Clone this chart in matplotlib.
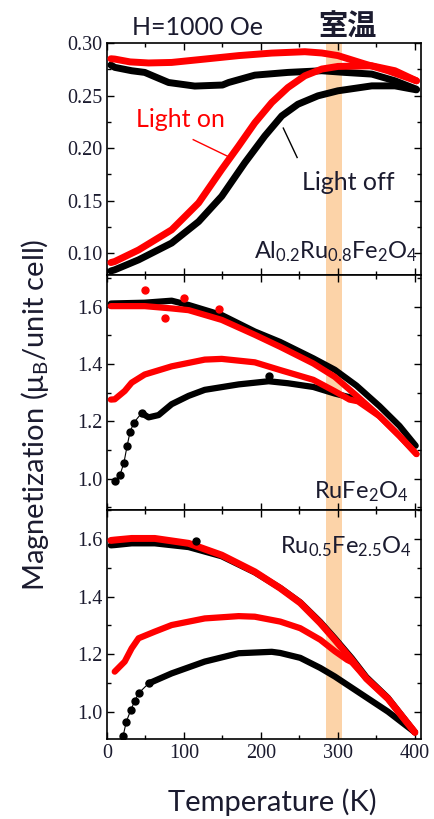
import matplotlib
matplotlib.use("Agg")
import matplotlib.pyplot as plt
from matplotlib.ticker import MultipleLocator

plt.rcParams['font.family'] = ['Liberation Serif', 'DejaVu Serif']
plt.rcParams['mathtext.fontset'] = 'custom'
plt.rcParams['mathtext.rm'] = 'Lato'
plt.rcParams['mathtext.it'] = 'Lato:italic'
plt.rcParams['mathtext.default'] = 'regular'

SANS = ['Lato', 'DejaVu Sans']
TXT = '#1b1b2f'
RED = '#ff0000'
BLK = '#000000'

# --- Al0.2Ru0.8Fe2O4 (top) ---
t_top_fc_on = [5, 10, 30, 54, 84, 127, 171, 214, 257, 279, 300, 335, 365, 402]
m_top_fc_on = [0.285, 0.2847, 0.282, 0.281, 0.2815, 0.2847, 0.288, 0.2904, 0.2917, 0.2905, 0.288, 0.280, 0.2736, 0.264]
t_top_fc_off = [5, 10, 32, 49, 80, 114, 150, 158, 192, 235, 279, 309, 344, 374, 402]
m_top_fc_off = [0.279, 0.2768, 0.2736, 0.272, 0.2624, 0.259, 0.260, 0.2624, 0.2694, 0.272, 0.2736, 0.272, 0.2704, 0.264, 0.256]
t_top_zfc_on = [5, 10, 41, 84, 119, 149, 171, 192, 214, 235, 257, 279, 300, 344, 374, 402]
m_top_zfc_on = [0.091, 0.092, 0.103, 0.1222, 0.1478, 0.1796, 0.202, 0.224, 0.2433, 0.2576, 0.2688, 0.2752, 0.2777, 0.2783, 0.2736, 0.264]
t_top_zfc_off = [5, 10, 41, 84, 119, 149, 179, 205, 227, 248, 274, 300, 344, 374, 402]
m_top_zfc_off = [0.083, 0.0841, 0.0936, 0.1096, 0.130, 0.1541, 0.186, 0.2115, 0.2306, 0.2417, 0.2497, 0.2545, 0.2592, 0.2592, 0.2554]

# --- RuFe2O4 (middle) ---
t_mid_fc_off = [5, 10, 49, 84, 106, 149, 192, 225, 268, 296, 324, 354, 380, 401]
m_mid_fc_off = [1.611, 1.6115, 1.614, 1.621, 1.606, 1.571, 1.5135, 1.477, 1.420, 1.380, 1.325, 1.253, 1.184, 1.115]
t_mid_fc_on = [5, 10, 49, 84, 106, 149, 192, 225, 268, 296, 324, 354, 380, 402]
m_mid_fc_on = [1.602, 1.602, 1.602, 1.594, 1.588, 1.554, 1.502, 1.460, 1.402, 1.355, 1.290, 1.218, 1.149, 1.086]
t_mid_out_on = [49, 75, 100, 145]
m_mid_out_on = [1.660, 1.560, 1.632, 1.592]
t_mid_zfc_on = [5, 10, 23, 32, 49, 84, 127, 149, 192, 225, 268, 296, 315, 326, 354, 380, 402]
m_mid_zfc_on = [1.276, 1.277, 1.306, 1.335, 1.3635, 1.392, 1.4155, 1.418, 1.406, 1.379, 1.345, 1.305, 1.276, 1.270, 1.218, 1.149, 1.086]
t_mid_zfc_off = [10, 17, 22, 26, 30, 35, 45, 54, 67, 84, 106, 127, 171, 210, 235, 268, 296, 311, 322]
m_mid_zfc_off = [0.991, 1.014, 1.056, 1.113, 1.164, 1.196, 1.229, 1.214, 1.222, 1.260, 1.289, 1.310, 1.329, 1.340, 1.333, 1.320, 1.297, 1.287, 1.280]
t_mid_out_off = [210]
m_mid_out_off = [1.358]

# --- Ru0.5Fe2.5O4 (bottom) ---
t_bot_fc_on = [5, 10, 32, 62, 106, 149, 192, 225, 251, 277, 296, 318, 337, 365, 400]
m_bot_fc_on = [1.595, 1.5965, 1.602, 1.602, 1.585, 1.544, 1.486, 1.429, 1.378, 1.308, 1.250, 1.180, 1.115, 1.045, 0.928]
t_bot_fc_off = [5, 10, 32, 62, 106, 149, 192, 225, 251, 277, 296, 318, 337, 365, 400]
m_bot_fc_off = [1.578, 1.579, 1.585, 1.585, 1.572, 1.540, 1.484, 1.430, 1.380, 1.312, 1.255, 1.186, 1.120, 1.048, 0.928]
t_bot_out_off = [116]
m_bot_out_off = [1.593]
t_bot_zfc_on = [10, 23, 32, 41, 62, 84, 127, 171, 192, 225, 251, 277, 296, 312, 318, 337, 365, 400]
m_bot_zfc_on = [1.139, 1.174, 1.220, 1.255, 1.278, 1.301, 1.324, 1.332, 1.330, 1.313, 1.290, 1.250, 1.210, 1.180, 1.172, 1.115, 1.045, 0.928]
t_bot_zfc_off = [21, 25, 31, 36, 41, 54, 84, 127, 171, 214, 225, 251, 277, 296, 322, 348, 365, 400]
m_bot_zfc_off = [0.916, 0.965, 1.006, 1.037, 1.064, 1.098, 1.133, 1.174, 1.203, 1.208, 1.204, 1.187, 1.152, 1.122, 1.076, 1.030, 1.000, 0.928]

band = (285, 305)

fig = plt.figure(figsize=(4.35, 8.19), dpi=100)
L, W = 0.246, 0.722
ax_top = fig.add_axes([L, 0.664, W, 0.2835])
ax_mid = fig.add_axes([L, 0.377, W, 0.287])
ax_bot = fig.add_axes([L, 0.0977, W, 0.2793])


def curve(ax, t, m, c, dots=False, lw=5):
    if dots:
        ax.plot(t, m, color=c, lw=0.8, marker='o', ms=5, zorder=3)
    else:
        ax.plot(t, m, color=c, lw=lw, solid_capstyle='round', solid_joinstyle='round', zorder=3)


for ax in (ax_top, ax_mid, ax_bot):
    ax.axvspan(band[0], band[1], color='#fcd3a8', lw=0, zorder=1)
    ax.set_xlim(0, 408)
    ax.xaxis.set_major_locator(MultipleLocator(100))
    ax.xaxis.set_minor_locator(MultipleLocator(50))
    ax.tick_params(which='both', direction='in', top=True, right=True,
                   labelsize=14.5, labelcolor=TXT, width=1)
    ax.tick_params(which='major', length=5)
    ax.tick_params(which='minor', length=3)
    for s in ax.spines.values():
        s.set_linewidth(1.2)

# top panel
curve(ax_top, t_top_zfc_off, m_top_zfc_off, BLK)
curve(ax_top, t_top_fc_off, m_top_fc_off, BLK)
curve(ax_top, t_top_zfc_on, m_top_zfc_on, RED)
curve(ax_top, t_top_fc_on, m_top_fc_on, RED)
ax_top.set_ylim(0.079, 0.30)
ax_top.yaxis.set_minor_locator(MultipleLocator(0.025))
ax_top.set_yticks([0.10, 0.15, 0.20, 0.25, 0.30])
ax_top.set_yticklabels(['0.10', '0.15', '0.20', '0.25', '0.30'])
ax_top.tick_params(labelbottom=False)
ax_top.text(95, 0.227, 'Light on', color=RED, fontsize=18, ha='center', va='center', family=SANS)
ax_top.plot([112, 160], [0.208, 0.191], color=RED, lw=1)
ax_top.text(313, 0.167, 'Light off', color=TXT, fontsize=18, ha='center', va='center', family=SANS)
ax_top.plot([229, 247], [0.219, 0.191], color=BLK, lw=1)
ax_top.text(404, 0.101, 'Al$_{0.2}$Ru$_{0.8}$Fe$_{2}$O$_{4}$', color=TXT, fontsize=17,
            ha='right', va='center', family=SANS)

# middle panel
curve(ax_mid, t_mid_zfc_off[:7], m_mid_zfc_off[:7], BLK, dots=True)
curve(ax_mid, t_mid_zfc_off[6:], m_mid_zfc_off[6:], BLK, lw=4.5)
curve(ax_mid, t_mid_fc_off, m_mid_fc_off, BLK, lw=4.5)
curve(ax_mid, t_mid_zfc_on, m_mid_zfc_on, RED, lw=4.5)
curve(ax_mid, t_mid_fc_on, m_mid_fc_on, RED, lw=4.5)
ax_mid.plot(t_mid_out_on, m_mid_out_on, 'o', color=RED, ms=5, zorder=4)
ax_mid.plot(t_mid_out_off, m_mid_out_off, 'o', color=BLK, ms=5, zorder=4)
ax_mid.set_ylim(0.89, 1.71)
ax_mid.yaxis.set_minor_locator(MultipleLocator(0.1))
ax_mid.set_yticks([1.0, 1.2, 1.4, 1.6])
ax_mid.set_yticklabels(['1.0', '1.2', '1.4', '1.6'])
ax_mid.tick_params(labelbottom=False)
ax_mid.text(391, 0.955, 'RuFe$_{2}$O$_{4}$', color=TXT, fontsize=17, ha='right', va='center', family=SANS)

# bottom panel
curve(ax_bot, t_bot_zfc_off[:6], m_bot_zfc_off[:6], BLK, dots=True)
curve(ax_bot, t_bot_zfc_off[5:], m_bot_zfc_off[5:], BLK, lw=4.5)
curve(ax_bot, t_bot_fc_off, m_bot_fc_off, BLK, lw=4.5)
curve(ax_bot, t_bot_zfc_on, m_bot_zfc_on, RED, lw=4.5)
curve(ax_bot, t_bot_fc_on, m_bot_fc_on, RED, lw=5)
ax_bot.plot(t_bot_out_off, m_bot_out_off, 'o', color=BLK, ms=5, zorder=4)
ax_bot.set_ylim(0.905, 1.70)
ax_bot.yaxis.set_minor_locator(MultipleLocator(0.1))
ax_bot.set_yticks([1.0, 1.2, 1.4, 1.6])
ax_bot.set_yticklabels(['1.0', '1.2', '1.4', '1.6'])
ax_bot.set_xticks([0, 100, 200, 300, 400])
ax_bot.set_xticklabels(['0', '100', '200', '300', '400'])
ax_bot.text(396, 1.575, 'Ru$_{0.5}$Fe$_{2.5}$O$_{4}$', color=TXT, fontsize=17, ha='right', va='center',
            family=SANS)

fig.text(0.453, 0.966, 'H=1000 Oe', color=TXT, fontsize=18, ha='center', va='center', family=SANS)
fig.text(0.798, 0.967, '室温', color=TXT, fontsize=21, ha='center', va='center',
         family=['Noto Sans CJK JP', 'DejaVu Sans'], fontweight='bold')
fig.text(0.625, 0.021, 'Temperature (K)', color=TXT, fontsize=21, ha='center', va='center', family=SANS)
fig.text(0.08, 0.493, 'Magnetization (μ$_{B}$/unit cell)', color=TXT, fontsize=21,
         ha='center', va='center', rotation=90, family=SANS)

fig.savefig('out.png', dpi=100)
